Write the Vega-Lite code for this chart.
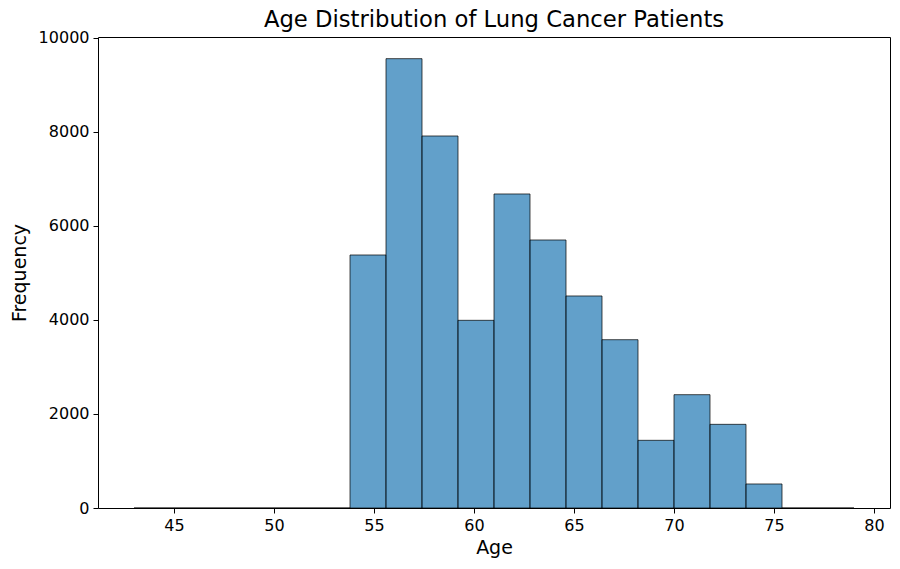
{
  "$schema": "https://vega.github.io/schema/vega-lite/v6.json",
  "width": 792,
  "height": 471,
  "autosize": {"type": "none"},
  "padding": {"left": 98, "top": 37, "right": 10, "bottom": 61},
  "background": "white",
  "title": {
    "text": "Age Distribution of Lung Cancer Patients",
    "font": "DejaVu Sans",
    "fontSize": 22.7,
    "fontWeight": "normal",
    "color": "black",
    "anchor": "middle",
    "offset": -2
  },
  "data": {
    "values": [
      {"start": 43.0, "end": 44.8, "count": 0},
      {"start": 44.8, "end": 46.6, "count": 0},
      {"start": 46.6, "end": 48.4, "count": 0},
      {"start": 48.4, "end": 50.2, "count": 0},
      {"start": 50.2, "end": 52.0, "count": 0},
      {"start": 52.0, "end": 53.8, "count": 0},
      {"start": 53.8, "end": 55.6, "count": 5383},
      {"start": 55.6, "end": 57.4, "count": 9560},
      {"start": 57.4, "end": 59.2, "count": 7915},
      {"start": 59.2, "end": 61.0, "count": 3993},
      {"start": 61.0, "end": 62.8, "count": 6681},
      {"start": 62.8, "end": 64.6, "count": 5702},
      {"start": 64.6, "end": 66.4, "count": 4511},
      {"start": 66.4, "end": 68.2, "count": 3581},
      {"start": 68.2, "end": 70.0, "count": 1440},
      {"start": 70.0, "end": 71.8, "count": 2411},
      {"start": 71.8, "end": 73.6, "count": 1780},
      {"start": 73.6, "end": 75.4, "count": 511},
      {"start": 75.4, "end": 77.2, "count": 0},
      {"start": 77.2, "end": 79.0, "count": 0}
    ]
  },
  "mark": {
    "type": "rect",
    "fill": "#1f77b4",
    "fillOpacity": 0.7,
    "stroke": "black",
    "strokeOpacity": 0.7,
    "strokeWidth": 1
  },
  "encoding": {
    "x": {
      "field": "start",
      "type": "quantitative",
      "scale": {"domain": [41.2, 80.8], "nice": false, "zero": false},
      "axis": {"values": [45, 50, 55, 60, 65, 70, 75, 80], "title": "Age"}
    },
    "x2": {"field": "end"},
    "y": {
      "field": "count",
      "type": "quantitative",
      "scale": {"domain": [0, 10021], "nice": false},
      "axis": {"values": [0, 2000, 4000, 6000, 8000, 10000], "format": "d", "title": "Frequency"}
    },
    "y2": {"datum": 0}
  },
  "config": {
    "view": {"stroke": "black", "strokeWidth": 1},
    "axis": {
      "grid": false,
      "domain": false,
      "tickColor": "black",
      "tickSize": 5,
      "tickWidth": 1,
      "labelFont": "DejaVu Sans",
      "labelFontSize": 16,
      "labelColor": "black",
      "labelPadding": 4,
      "titleFont": "DejaVu Sans",
      "titleFontSize": 19,
      "titleFontWeight": "normal",
      "titleColor": "black"
    },
    "axisX": {"titlePadding": 5},
    "axisY": {"titlePadding": 9}
  }
}
